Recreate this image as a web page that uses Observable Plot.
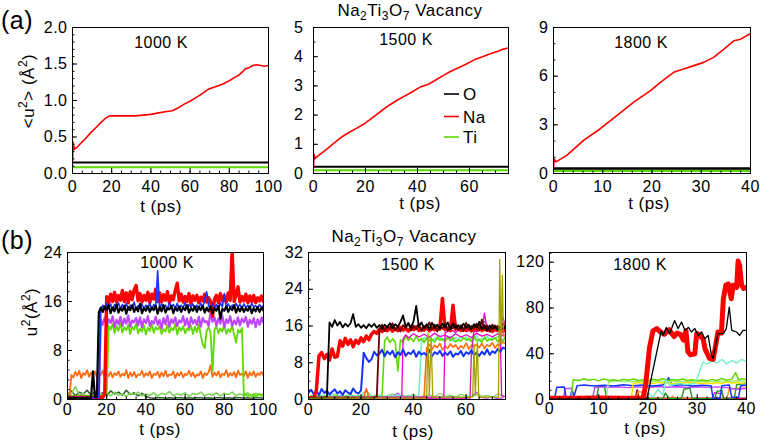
<!DOCTYPE html>
<html>
<head>
<meta charset="utf-8">
<script src="https://cdn.jsdelivr.net/npm/d3@7"></script>
<script src="https://cdn.jsdelivr.net/npm/@observablehq/plot@0.6"></script>
<style>
  body { margin: 0; background: #fff; }
  #fig { position: relative; width: 760px; height: 444px; overflow: hidden; background: #fff;
         font-family: "Liberation Sans", Arial, Helvetica, sans-serif; color: #000; }
  #fig svg text { letter-spacing: 0.5px; }
  #overlay { position: absolute; left: 0; top: 0; pointer-events: none; }
</style>
</head>
<body>
<div id="fig"></div>
<script>
// ================= DATA =================
// ---- (a) mean square displacement <u^2> (Å^2) vs t (ps) ----
const aTempLabels = ["1000 K", "1500 K", "1800 K"];
const aSpecies = ["O", "Na", "Ti"];
const aTmax = [100, 75, 40];
const aO = [0.15, 0.23, 0.31];          // O level for each temperature
const aTi = [0.085, 0.11, 0.17];        // Ti level for each temperature

const a1000T  = [0, 0.3, 1, 3, 6, 9, 12, 15, 17, 19, 20, 22, 25, 28, 32, 36, 40, 44, 48, 51, 54, 57, 60, 63, 66, 69, 71, 74, 77, 80, 83, 85, 87, 88, 90, 92, 94, 96, 98, 100];
const a1000Na = [0.15, 0.43, 0.33, 0.38, 0.46, 0.55, 0.63, 0.71, 0.76, 0.79, 0.79, 0.79, 0.79, 0.79, 0.79, 0.80, 0.81, 0.83, 0.85, 0.86, 0.90, 0.95, 0.99, 1.04, 1.09, 1.15, 1.17, 1.20, 1.23, 1.27, 1.32, 1.35, 1.40, 1.43, 1.45, 1.48, 1.49, 1.48, 1.47, 1.48];

const a1500T  = [0, 0.2, 0.6, 2, 5, 8, 11, 14, 17, 20, 23, 26, 29, 32, 35, 38, 41, 44, 47, 50, 53, 56, 59, 62, 65, 68, 71, 73, 75];
const a1500Na = [0.22, 0.66, 0.52, 0.62, 0.83, 1.05, 1.26, 1.42, 1.57, 1.73, 1.93, 2.14, 2.33, 2.50, 2.65, 2.80, 2.96, 3.05, 3.20, 3.36, 3.51, 3.63, 3.76, 3.90, 4.00, 4.10, 4.19, 4.26, 4.30];

const a1800T  = [0, 0.15, 0.5, 2.7, 6.1, 9.5, 12.9, 16.3, 19.7, 21.7, 24.4, 26.4, 28.5, 30.5, 32.5, 34.6, 36.6, 38, 40];
const a1800Na = [0.31, 0.90, 0.72, 1.12, 2.04, 2.76, 3.58, 4.40, 5.11, 5.62, 6.24, 6.44, 6.65, 6.85, 7.16, 7.67, 8.18, 8.28, 8.63];

// ---- (b) u^2 of individual atoms, 1000 K (sampled every 1 ps from t = 0 to 100) ----
const b1000Dt = 1;
const b1000Red = [0.3,0.4,0.3,0.2,0.4,0.3,0.3,0.4,0.2,0.3,0.4,0.3,0.3,0.2,0.4,0.3,0.3,0.4,0.3, 1.0,
  16.8,15.8,17.2,16.0,17.5,15.9,17.0,16.2,17.8,16.0,
  17.4,15.8,17.6,16.3,17.9,18.6,16.1,17.3,15.9,17.0,
  16.2,17.5,15.8,17.2,16.4,18.0,16.0,17.4,15.9,17.1,
  16.2,17.6,15.8,16.9,16.3,17.8,19.0,16.1,17.2,15.9,
  16.8,16.0,17.3,15.7,16.9,16.2,17.0,15.8,16.7,16.1,
  17.2,15.9,16.6,16.0,13.6,16.4,17.0,15.8,17.3,16.1,
  16.9,15.9,17.4,16.2,24.5,16.0,17.1,18.4,15.9,16.8,
  16.1,17.2,15.8,16.9,16.0,17.0,15.8,16.6,16.1,16.9,16.0];
const b1000Black = [0.2,0.3,0.2,0.3,0.2,0.3,0.2,0.2,0.3,0.2,0.3,0.2,0.3, 4.6,0.4,0.5,
  14.2,15.0,14.3,15.2,
  14.6,15.4,14.1,15.0,14.4,15.5,14.2,14.9,14.5,15.3,
  14.0,15.1,14.6,15.4,14.3,15.0,14.4,15.6,14.1,14.9,
  14.5,15.2,14.3,15.0,14.6,15.3,14.0,15.1,14.4,15.4,
  14.2,14.9,14.7,15.3,14.1,15.0,14.5,15.2,14.3,15.0,
  14.6,15.4,14.2,14.9,14.5,15.2,14.3,15.1,14.6,15.3,
  14.2,15.0,14.4,15.2,14.1,14.9,14.5,15.3,13.2,14.8,
  14.5,15.2,14.3,15.0,14.6,15.4,14.2,15.0,14.4,15.1,
  14.3,14.9,14.5,15.2,14.1,14.9,14.4,15.1,14.3,15.0,14.5];
const b1000Blue = [0.3,0.3,0.3,0.3,0.3,0.3,0.3,0.3,0.3,0.3,0.3,0.3,0.3,0.3,0.3,0.3,0.3, 14.6,
  15.4,14.7,15.7,14.9,15.6,14.6,15.5,15.0,15.8,14.8,
  15.5,14.9,15.7,14.6,15.4,15.0,15.9,14.7,15.3,15.1,
  15.6,14.8,15.4,14.9,15.7,14.7,15.5,15.2,21.0,14.8,
  15.6,15.0,15.4,14.7,15.8,15.1,15.5,14.9,15.7,14.6,
  15.4,15.0,15.8,14.8,15.5,15.1,15.6,14.7,15.4,14.9,
  15.7,15.0,16.2,17.6,15.3,14.8,15.6,15.0,15.5,14.7,
  15.8,15.1,17.3,14.9,15.6,15.0,15.4,14.8,15.7,15.1,
  15.5,14.9,15.6,15.0,15.4,14.8,15.7,15.1,15.3,14.9,15.5,15.0,15.4];
const b1000Violet = [0.3,0.3,0.3,0.3,0.3,0.3,0.3,0.3,0.3,0.3,0.3,0.3,0.3,0.3,0.3,0.3,0.3, 13.0,
  12.2,13.4,11.9,13.1,12.5,13.6,11.8,13.0,12.3,13.5,
  12.0,13.2,12.4,13.7,11.9,12.9,12.6,13.3,12.1,13.4,
  11.8,13.1,12.5,13.6,12.0,12.8,12.4,13.5,12.2,13.0,
  11.6,13.3,12.3,13.7,11.9,13.1,12.5,13.4,12.0,12.9,
  12.6,13.6,12.1,13.2,11.8,13.4,12.4,13.0,12.2,13.5,
  11.9,13.3,12.6,12.8,12.0,14.4,12.7,13.4,12.1,13.2,
  12.4,13.7,11.8,13.1,12.5,13.6,12.0,12.9,12.3,13.4,
  12.1,13.2,12.6,13.5,11.9,13.0,12.4,13.3,11.8,13.1,12.2,13.4,12.5];
const b1000Green = [0.6,0.6,0.6,0.6,0.6,0.6,0.6,0.6,0.6,0.6,0.6,0.6,0.6,0.6,0.6,0.6,0.6,0.6,0.6,0.6, 1.0,12.0,
  11.4,12.3,10.8,12.0,11.2,12.5,10.9,11.8,11.3,12.2,
  10.7,11.9,11.4,12.4,10.8,11.6,11.1,12.1,10.6,11.7,
  11.2,12.3,10.9,11.8,11.4,12.0,10.7,11.5,11.1,12.2,
  10.9,11.7,11.3,12.4,10.6,11.8,11.2,12.0,10.8,11.6,
  11.3,12.1,10.7,11.9,11.0,12.3,10.5,9.0,8.4,11.2,
  11.8,10.9,4.6,11.4,12.0,10.8,11.6,11.1,12.2,10.7,
  11.5,11.0,12.1,10.6,9.3,11.4,10.9,11.7,0.6,0.9,
  0.5,0.8,0.6,0.9,0.5,0.7,0.9,0.6,0.8];
const b1000Orange = [0.4,0.5,4.0,
  3.6,4.5,3.9,4.7,3.5,4.3,4.0,4.8,3.7,4.4,
  3.9,4.6,3.6,4.2,4.0,4.7,3.5,4.4,3.8,4.5,
  3.6,4.3,4.0,4.6,3.7,4.2,3.9,4.8,3.5,4.4,
  3.8,4.5,3.6,4.1,4.0,4.7,3.7,4.3,3.9,4.6,
  3.5,4.2,4.0,4.5,3.6,4.4,3.8,4.7,3.7,4.1,
  4.0,4.6,3.5,4.3,3.9,4.5,3.6,4.2,4.0,4.7,
  3.8,4.4,3.6,4.1,3.9,4.6,3.5,4.3,4.0,4.5,
  5.6,3.7,4.4,3.9,4.6,3.6,4.2,4.0,4.8,3.7,
  4.3,3.9,4.5,3.6,4.7,4.0,4.2,3.8,4.6,3.5,
  4.4,3.9,4.6,3.7,4.3,4.0,4.5,3.8];
const b1000LowDt = 2;
const b1000LowGreen = [0.6,0.9,2.1,0.7,1.0,0.5,0.9,0.6,1.1,0.7,
  0.9,0.6,1.2,0.7,0.9,0.5,1.0,0.8,1.2,0.6,
  0.9,0.7,1.1,0.6,1.0,0.8,1.3,0.6,0.9,0.7,
  1.1,0.5,1.0,0.8,1.2,0.6,0.9,0.7,1.1,0.6,
  1.0,0.8,1.2,0.6,0.9,0.7,1.1,0.5,1.0,0.8,0.9];
const b1000LowDark = [0.8,1.4,0.6,1.2,0.9,1.5,0.7,1.3,0.8,1.1,0.6,1.4,0.9,1.2,0.7,1.5,0.8,1.1,0.6,1.0,0.5,
  0.3,0.2,0.3,0.3,0.2,0.3,0.2,0.3,0.3,0.2,0.3,0.2,0.3,0.3,0.2,0.3,0.2,0.3,0.3,0.2,0.3,0.2,0.3,0.3,0.2,0.3,0.2,0.3,0.3,0.2];

// ---- (b) 1500 K (sampled every 1 ps from t = 0 to 75) ----
const b1500Dt = 1;
const b1500Black = [0.3,0.2,0.4,0.3,0.2,0.3,0.4,0.5,
  16.8,15.8,17.3,16.1,16.9,15.7,16.5,15.9,16.6,18.6,
  15.8,16.4,15.6,16.2,15.5,16.4,15.8,16.5,15.6,16.2,
  15.4,16.3,15.7,16.6,15.5,16.4,15.8,16.9,18.3,15.9,
  16.6,15.7,17.0,20.4,15.8,16.8,15.5,16.4,15.2,16.7,
  15.6,16.3,15.4,16.5,15.7,16.8,15.3,16.6,15.5,16.2,
  15.4,16.5,15.6,16.3,15.2,16.4,15.6,16.9,15.3,16.2,
  15.0,16.1,15.4,16.0,15.1,15.9,15.3,15.8];
const b1500Red = [0.3,0.4,0.3, 2.0,
  9.5,10.2,8.9,9.8,8.6,11.0,9.2,9.4,
  12.8,11.6,13.3,12.0,13.0,11.5,12.9,12.2,13.4,12.6,
  13.8,13.0,14.2,14.8,14.4,15.3,14.8,15.5,15.0,15.6,
  14.9,15.4,15.0,15.7,15.1,15.5,14.9,15.6,15.2,15.8,
  15.0,15.4,15.1,15.7,15.0,15.5,15.2,15.8,15.3,22.0,
  15.2,15.6,15.0,20.5,15.3,15.8,15.0,15.4,15.1,15.7,
  14.9,15.5,15.2,15.8,15.0,15.4,15.1,15.6,14.9,15.3,
  15.0,15.5,14.8,15.2];
const b1500Maroon = [0.3,0.4,0.3,0.2,0.4,0.3,0.3,0.4,0.2,0.3,0.4,0.3,0.3,0.2,0.4,0.3,0.3,0.4,0.3,0.2,0.3,0.4,0.3,0.2,0.4,0.3,0.6,
  15.2,16.3,14.9,16.0,15.4,16.6,15.1,15.8,14.8,16.2,
  15.5,16.7,15.0,16.1,15.3,16.5,14.9,16.0,15.6,16.8,
  15.2,16.3,14.8,16.1,15.4,16.6,15.0,15.9,15.5,16.4,
  15.1,16.2,14.9,16.7,15.3,16.0,15.6,16.5,15.0,17.4,
  15.2,16.1,14.8,16.3,15.5,16.0,15.1,16.6,15.3];
const b1500Blue = [1.5,2.1,1.2,1.8,1.0,2.3,1.4,1.9,1.1,1.7,2.2,1.3,1.8,1.0,2.0,1.5,1.2,2.4,1.6,1.3,2.0,
  10.2,9.0,8.2,8.8,10.4,9.6,10.0,10.8,9.4,10.5,
  9.8,10.6,9.2,10.3,9.7,10.9,9.5,10.2,9.9,10.7,
  9.3,10.4,9.8,10.1,9.6,10.8,9.4,10.3,9.9,10.6,
  9.5,10.2,9.7,10.5,9.3,10.0,9.8,10.6,9.4,10.3,
  9.9,10.7,9.6,10.2,9.5,10.4,9.8,10.9,9.7,10.5,
  10.1,11.0,10.4,11.3,11.0];
const b1500Green = [0.5,0.7,0.4,0.6,0.8,0.5,0.6,0.4,0.7,0.5,0.6,0.8,0.4,0.6,0.5,0.7,0.5,0.6,0.4,0.8,0.5,0.6,0.7,0.4,0.6,0.5,0.7,0.5,0.6,
  12.8,13.6,12.4,13.2,12.6,6.2,13.0,12.5,13.7,12.9,
  13.4,12.6,13.8,12.7,13.3,12.4,13.5,12.8,13.1,12.5,
  13.6,12.9,13.2,12.6,13.7,12.8,13.4,12.5,13.0,12.7,
  13.5,12.9,13.3,12.6,13.8,12.8,13.1,12.5,13.6,12.7,
  13.2,12.9,13.5,12.6,13.0,12.8,13.3];
const b1500Aqua = [0.6,0.9,0.5,0.8,0.7,1.0,0.6,0.8,0.5,0.9,0.7,0.6,1.0,0.8,0.5,0.7,0.9,0.6,0.8,0.5,1.0,0.7,0.6,0.9,0.8,0.5,0.7,1.0,0.6,0.8,0.5,0.9,0.7,0.6,1.0,0.8,0.5,0.7,0.9,0.6,0.8,0.5,0.7,
  12.6,13.5,12.9,13.8,12.7,13.3,13.0,13.9,12.8,13.4,
  13.1,13.7,12.6,13.5,12.9,13.8,13.2,13.6,12.8,13.4,
  13.0,13.9,12.7,13.3,13.1,13.8,12.9,13.5,13.2,13.7,13.4,13.0,13.6];
const b1500Orange = [0.4,0.3,0.5,0.4,0.3,0.4,0.5,0.3,0.4,0.4,0.3,0.5,0.4,0.3,0.4,0.5,0.3,0.4,0.4,0.3,0.5,0.4,2.4,0.4,0.3,0.5,0.4,0.3,0.4,0.5,0.3,0.4,0.4,0.3,0.5,0.4,0.3,0.4,0.5,0.3,0.4,0.4,0.3,0.5,0.4,
  11.2,12.0,10.9,11.8,11.3,12.2,10.8,11.6,11.1,12.1,
  11.4,11.9,10.9,11.7,11.2,12.3,11.0,11.8,11.5,12.0,
  11.3,12.2,11.1,11.9,11.6,12.4,11.2,12.0,11.8,12.5,12.2];
const b1500Magenta1 = [[0,0.4],[35.5,0.4],[36,13.2],[37,14.1],[38,13.4],[40,14.3],[42,13.6],[44,14.2],[46,13.5],[48,14.4],[50,13.7],[52,14.0],[54,13.4],[56,14.3],[58,13.6],[60,14.1],[62,13.5],[64,14.4],[66,13.8],[68,14.2],[70,13.6],[72,14.3],[74,13.9],[75,14.1]];
const b1500Magenta2 = [[0,0.5],[51.5,0.5],[52,14.5],[54,15.2],[56,14.6],[58,15.4],[60,14.8],[62,15.1],[64,14.7],[66,15.5],[67,18.8],[68,15.0],[70,14.6],[72,15.3],[73,14.8],[73.5,0.8],[75,0.6]];
const b1500Magenta3 = [[0,0.3],[61.5,0.3],[62,10],[63,15],[65,16],[67,17],[69,15.5],[71,16.2],[73,15],[74,18],[75,16]];
const b1500Olive = [[0,0.3],[45,0.3],[45.5,14.5],[46,1.0],[46.7,13.5],[47.3,0.5],[62.5,0.5],[63,12],[63.5,1],[64.3,12.5],[64.8,0.5],[72.3,0.5],[72.8,30.5],[73.3,12],[73.8,27],[74.2,14],[75,13]];
const b1500LowDt = 2;
const b1500LowGreen = [0.6,1.0,0.4,0.9,0.7,1.2,0.5,0.8,1.1,0.6,0.9,2.0,0.7,1.0,0.5,0.8,1.2,0.6,0.9,0.7,1.1,0.5,0.8,1.0,0.6,1.3,0.7,0.9,0.5,1.1,0.8,0.6,1.0,0.7,0.9,0.5,1.2,0.8];
const b1500LowViolet = [0.3,0.5,0.2,0.6,0.4,0.3,0.7,0.2,0.5,0.4,0.3,0.6,0.2,0.4,0.5,0.3,0.6,1.4,0.4,0.3,0.5,0.2,0.6,0.4,0.3,0.5,0.2,0.7,0.4,0.3,0.5,0.6,1.6,0.4,0.3,0.5,0.2,0.4];

// ---- (b) 1800 K ([t, u^2] pairs) ----
const b1800Red = [[0,1.2],[5,1.0],[10,1.3],[15,1.0],[19,1.2],[19.5,12],[20.3,45],[21,60],[21.8,62],[22.5,59],[23.3,57],[24.3,61],[25.3,55],[25.9,58],[26.6,57],[27.2,52],[27.7,60],[28.1,42],[28.6,39],[29.5,40],[29.9,58],[30.5,56],[31.2,53],[31.6,44],[32.5,36],[33.2,35],[33.6,44],[34.2,59],[34.9,58],[35.3,88],[35.8,100],[36.3,101],[36.9,88],[37.3,100],[38,98],[38.3,121],[38.6,117],[39,100],[39.4,97],[40,98]];
const b1800Black = [[0,0.4],[19.5,0.4],[19.8,1],[22.7,60.5],[23.1,56],[23.7,63],[24.4,57.5],[25.4,69],[26.1,62],[26.8,67.7],[27.5,60.5],[28.2,63],[28.8,59],[29.5,62],[30.2,56],[30.9,59],[31.5,53],[32.2,56],[32.9,38.7],[33.2,35.8],[33.6,44.5],[34.2,57.5],[35.3,57.5],[35.9,62],[36.5,80.8],[37,60.5],[38,59],[38.6,56],[39.3,60.5],[40,60.5]];
const b1800Aqua = [[0,0.5],[19,0.5],[20,6],[21,2],[22,9],[23,4],[23.7,17],[24.5,12],[26,14],[28,13],[29.5,14],[30.2,21],[31.2,33],[32,31],[33,34],[34,32],[35,35],[36,31],[37,34],[38,32],[39,35],[40,33]];
const b1800Green = [[0,0.5],[4.4,0.5],[4.8,17.2],[6,16.6],[7,18.1],[8,16.8],[9,17.6],[10,16.3],[11,17.9],[12,16.7],[13,17.3],[14,16.5],[15,17.7],[16,16.9],[17,18.0],[18,16.6],[19,17.3],[20,16.4],[21,17.7],[22,16.9],[23,18.1],[24,16.7],[25,17.5],[26,16.9],[27,17.9],[28,16.6],[29,17.3],[30,16.5],[31,17.1],[32,16.3],[33,17.6],[34,16.7],[35,18.3],[36,16.9],[37,17.8],[37.8,23.5],[38.4,17.0],[39,18.2],[40,17.4]];
const b1800LightGreen = [[0,0.5],[11.5,0.5],[12,15.5],[14,16.2],[16,15.4],[18,16.0],[20,15.2],[22,16.3],[24,15.6],[26,16.1],[28,15.3],[30,15.9],[32,15.4],[34,16.2],[36,15.5],[38,16.4],[40,15.8]];
const b1800Yellow = [[0,0.3],[16.6,0.3],[17,14.2],[18,14.8],[19,13.9],[20,14.6],[21,14.0],[22,15.1],[23,14.3],[24,14.9],[25,13.8],[26,14.5],[27,14.1],[28,15.0],[29,14.2],[30,14.7],[31,13.9],[32,14.6],[33,14.0],[34,14.8],[35,14.2],[36,15.2],[37,14.4],[38,14.9],[39,14.1],[40,14.6]];
const b1800Blue = [[0,0.5],[1,0.5],[1.5,10.8],[3,11],[3.4,0.6],[4.2,0.6],[4.5,7.5],[5,3],[5.6,12],[7,12.6],[9,11.8],[11,12.5],[13,11.9],[15,12.8],[17,12.1],[19,12.7],[21,11.8],[23,12.6],[24.2,19],[25,12.2],[27,12.8],[29,11.9],[31,12.5],[32.8,12.1],[33.2,1],[34.6,1],[35,12],[36.5,12.6],[37,2],[38.4,2],[38.8,12],[40,12.4]];
const b1800Violet = [[0,0.4],[2.8,0.4],[3.2,9.5],[4.6,9.8],[5,0.5],[8.7,0.5],[9.2,10.5],[10.5,11],[12,10.6],[14,11.2],[16,10.4],[18,11],[20,10.5],[22,11.3],[24,10.7],[26,11.1],[28,10.5],[30,11.2],[32,10.6],[34,11.0],[36,10.4],[38,9.0],[40,9.5]];
const b1800DarkGreen = [[0,0.3],[9.5,0.3],[10,11.5],[11.2,11],[11.6,0.5],[23,0.5],[23.5,5.5],[24.3,1],[26.8,1],[27.3,9],[28.5,10],[29,0.8],[33.5,0.8],[34,7],[35,8],[35.4,0.5],[37.5,0.5],[38,13],[40,14]];
const b1800Orange = [[0,0.4],[17.5,0.4],[18,7],[19.5,6],[19.9,0.5],[24.5,0.5],[25,3],[25.5,0.5],[36,0.5],[36.5,9],[40,10.5]];
const b1800Magenta = [[0,0.3],[33,0.3],[33.5,6],[35,5],[35.5,0.3],[40,0.3]];
const b1800Maroon = [[0,0.8],[17.5,0.8],[17.8,8],[18.1,0.8],[40,0.8]];

// tick labels
const aTicksX = [[0,20,40,60,80,100],[0,20,40,60],[0,10,20,30,40]];
const aTicksY = [[0,0.5,1.0,1.5,2.0],[0,1,2,3,4,5],[0,3,6,9]];
const bTicksX = [[0,20,40,60,80,100],[0,20,40,60],[0,10,20,30,40]];
const bTicksY = [[0,8,16,24],[0,8,16,24,32],[0,40,80,120]];

// ================= DRAWING =================
const FONT = '"Liberation Sans", Arial, Helvetica, sans-serif';
const RED = "#ff0000", BLACK = "#000000", GREEN = "#5fd800", BLUE = "#1533ff", VIOLET = "#c045ff",
      ORANGE = "#ff6a10", LOWGREEN = "#7fd45c", MAROON = "#6a0000", AQUA = "#70f0c8", MAGENTA = "#e800c8",
      OLIVE = "#a3a300", YELLOW = "#f2e200", DARKGREEN = "#1a9a1a", ORANGE2 = "#ff8c1a", LIGHTGREEN = "#a2ee72",
      DARK = "#2f5a2f";

const fromValues = (vals, dt) => vals.map((v, i) => ({t: i * dt, v}));
const fromPairs = (pairs) => pairs.map(([t, v]) => ({t, v}));
const flat = (v, tmax) => [{t: 0, v}, {t: tmax, v}];
const ln = (data, stroke, strokeWidth = 1.2) => Plot.line(data, {x: "t", y: "v", stroke, strokeWidth, clip: true});

const fig = document.getElementById("fig");

function panel({frame, xDomain, yDomain, xTicks, yTicks, xMinor, yMinor, yFormat, xLabelGap, yLabelGap, marks}) {
  const ml = 60, mr = 14, mt = 8, mb = 40;
  const w = frame[2] - frame[0], h = frame[3] - frame[1];
  const svg = Plot.plot({
    width: w + ml + mr, height: h + mt + mb,
    marginLeft: ml, marginRight: mr, marginTop: mt, marginBottom: mb,
    style: {fontFamily: FONT, fontSize: "16px", background: "transparent", overflow: "visible", color: "#000"},
    x: {domain: xDomain},
    y: {domain: yDomain},
    marks: [
      ...marks,
      Plot.frame({stroke: "#000", strokeWidth: 1}),
      Plot.axisX({ticks: xMinor, tickSize: -2.5, fill: "none", label: null}),
      Plot.axisY({ticks: yMinor, tickSize: -2.5, fill: "none", label: null}),
      Plot.axisX({ticks: xTicks, tickSize: -5, tickPadding: 5 + xLabelGap, tickFormat: d3.format("d"), label: null}),
      Plot.axisY({ticks: yTicks, tickSize: -5, tickPadding: 5 + yLabelGap, tickFormat: yFormat, label: null})
    ]
  });
  svg.style.position = "absolute";
  svg.style.left = (frame[0] - ml) + "px";
  svg.style.top = (frame[1] - mt) + "px";
  fig.appendChild(svg);
}

// ---- (a) ----
const aFrames = [[72, 27, 268, 173], [313, 27, 508, 173], [553, 27, 750, 173]];
const aNa = [[a1000T, a1000Na], [a1500T, a1500Na], [a1800T, a1800Na]];
const aYMax = [2, 5, 9];
const aMinorY = [0.1, 0.5, 1];
const aMinorX = [5, 5, 2];
const aYGap = [5, 10, 5];
for (let k = 0; k < 3; k++) {
  const [T, V] = aNa[k];
  panel({
    frame: aFrames[k],
    xDomain: [0, aTmax[k]], yDomain: [0, aYMax[k]],
    xTicks: aTicksX[k], yTicks: aTicksY[k],
    xMinor: d3.range(0, aTmax[k] + 1e-9, aMinorX[k]),
    yMinor: d3.range(0, aYMax[k] + 1e-9, aMinorY[k]),
    yFormat: k === 0 ? d3.format(".1f") : d3.format("d"),
    xLabelGap: 7, yLabelGap: aYGap[k],
    marks: [
      ln(flat(aTi[k], aTmax[k]), GREEN, k === 2 ? 2.4 : 2),
      ln(flat(aO[k], aTmax[k]), BLACK, k === 2 ? 2.6 : 2),
      ln(T.map((t, i) => ({t, v: V[i]})), RED, 1.6)
    ]
  });
}

// ---- (b) ----
const bFrames = [[67, 252, 263, 399], [308, 252, 505, 399], [549, 252, 746, 399]];
panel({
  frame: bFrames[0], xDomain: [0, 100], yDomain: [0, 24],
  xTicks: bTicksX[0], yTicks: bTicksY[0],
  xMinor: d3.range(0, 100.01, 5), yMinor: d3.range(0, 24.01, 1.6),
  yFormat: d3.format("d"), xLabelGap: 4, yLabelGap: 5,
  marks: [
    ln(fromValues(b1000LowDark, b1000LowDt), DARK, 1.5),
    ln(fromValues(b1000LowGreen, b1000LowDt), LOWGREEN, 1.6),
    ln(fromValues(b1000Orange, b1000Dt), ORANGE, 1.8),
    ln(fromValues(b1000Green, b1000Dt), GREEN, 1.8),
    ln(fromValues(b1000Violet, b1000Dt), VIOLET, 2.2),
    ln(fromValues(b1000Red, b1000Dt), RED, 3.4),
    ln(fromValues(b1000Blue, b1000Dt), BLUE, 1.6),
    ln(fromValues(b1000Black, b1000Dt), BLACK, 2.2)
  ]
});
panel({
  frame: bFrames[1], xDomain: [0, 75], yDomain: [0, 32],
  xTicks: bTicksX[1], yTicks: bTicksY[1],
  xMinor: d3.range(0, 75.01, 5), yMinor: d3.range(0, 32.01, 2),
  yFormat: d3.format("d"), xLabelGap: 4, yLabelGap: 5,
  marks: [
    ln(fromValues(b1500LowViolet, b1500LowDt), VIOLET, 1.3),
    ln(fromValues(b1500LowGreen, b1500LowDt), LOWGREEN, 1.3),
    ln(fromValues(b1500Aqua, b1500Dt), AQUA, 1.6),
    ln(fromValues(b1500Orange, b1500Dt), ORANGE, 1.6),
    ln(fromValues(b1500Green, b1500Dt), GREEN, 1.6),
    ln(fromPairs(b1500Magenta1), MAGENTA, 1.3),
    ln(fromPairs(b1500Magenta2), MAGENTA, 1.3),
    ln(fromPairs(b1500Magenta3), "#cc1aa8", 1.3),
    ln(fromValues(b1500Blue, b1500Dt), BLUE, 2),
    ln(fromValues(b1500Red, b1500Dt), RED, 3.5),
    ln(fromValues(b1500Maroon, b1500Dt), MAROON, 1.8),
    ln(fromValues(b1500Black, b1500Dt), BLACK, 1.8),
    ln(fromPairs(b1500Olive), OLIVE, 1.3)
  ]
});
panel({
  frame: bFrames[2], xDomain: [0, 40], yDomain: [0, 128.5],
  xTicks: bTicksX[2], yTicks: bTicksY[2],
  xMinor: d3.range(0, 40.01, 2), yMinor: d3.range(0, 128.5, 8),
  yFormat: d3.format("d"), xLabelGap: 3, yLabelGap: 5,
  marks: [
    ln(fromPairs(b1800Maroon), "#a00000", 2),
    ln(fromPairs(b1800Magenta), MAGENTA, 1.2),
    ln(fromPairs(b1800Orange), ORANGE2, 1.3),
    ln(fromPairs(b1800DarkGreen), DARKGREEN, 1.4),
    ln(fromPairs(b1800Violet), VIOLET, 1.4),
    ln(fromPairs(b1800Blue), BLUE, 1.5),
    ln(fromPairs(b1800LightGreen), LIGHTGREEN, 1.4),
    ln(fromPairs(b1800Yellow), YELLOW, 1.5),
    ln(fromPairs(b1800Green), GREEN, 1.5),
    ln(fromPairs(b1800Aqua), AQUA, 1.4),
    ln(fromPairs(b1800Red), RED, 5),
    ln(fromPairs(b1800Black), BLACK, 1.3)
  ]
});

// ---- annotations overlay (titles, labels, legend) ----
const sub = (s) => `<tspan dy="4" font-size="12">${s}</tspan>`;
const up = `<tspan dy="-4">`;
const title = (x, y) => `<text x="${x}" y="${y}" text-anchor="middle" font-size="17">Na${sub("2")}${up}Ti</tspan>${sub("3")}${up}O</tspan>${sub("7")}${up} Vacancy</tspan></text>`;
const tLabel = (x, y) => `<text x="${x}" y="${y}" text-anchor="middle" font-size="17">t (ps)</text>`;
const temp = (x, y, s) => `<text x="${x}" y="${y}" text-anchor="middle" font-size="16">${s}</text>`;
const legendY = [94, 116.5, 137];
const legendColors = [BLACK, RED, GREEN];
let legend = "";
aSpecies.forEach((s, i) => {
  legend += `<line x1="444" x2="459" y1="${legendY[i]}" y2="${legendY[i]}" stroke="${legendColors[i]}" stroke-width="1.6"/>`;
  legend += `<text x="463" y="${legendY[i] + 6}" font-size="17">${s}</text>`;
});
const overlay = `
<svg id="overlay" width="760" height="444" font-family='${FONT}' fill="#000">
  <text x="1" y="28.5" font-size="25">(a)</text>
  <text x="1" y="248.5" font-size="25">(b)</text>
  ${title(410, 16)}
  ${title(404, 242)}
  ${temp(161, 48, aTempLabels[0])}
  ${temp(406, 45, aTempLabels[1])}
  ${temp(641, 48, aTempLabels[2])}
  ${temp(167, 268, aTempLabels[0])}
  ${temp(408, 270, aTempLabels[1])}
  ${temp(640, 270, aTempLabels[2])}
  ${tLabel(161, 212)} ${tLabel(420, 209)} ${tLabel(649, 209)}
  ${tLabel(160, 435)} ${tLabel(413, 437)} ${tLabel(645, 434)}
  <text transform="translate(34,91) rotate(-90)" text-anchor="middle" font-size="17">&lt;u<tspan dy="-7" font-size="12">2</tspan><tspan dy="7">&gt; (Å</tspan><tspan dy="-7" font-size="12">2</tspan><tspan dy="7">)</tspan></text>
  <text transform="translate(37,312) rotate(-90)" text-anchor="middle" font-size="17">u<tspan dy="-7" font-size="12">2</tspan><tspan dy="7">(Å</tspan><tspan dy="-7" font-size="12">2</tspan><tspan dy="7">)</tspan></text>
  ${legend}
</svg>`;
fig.insertAdjacentHTML("beforeend", overlay);
</script>
</body>
</html>
